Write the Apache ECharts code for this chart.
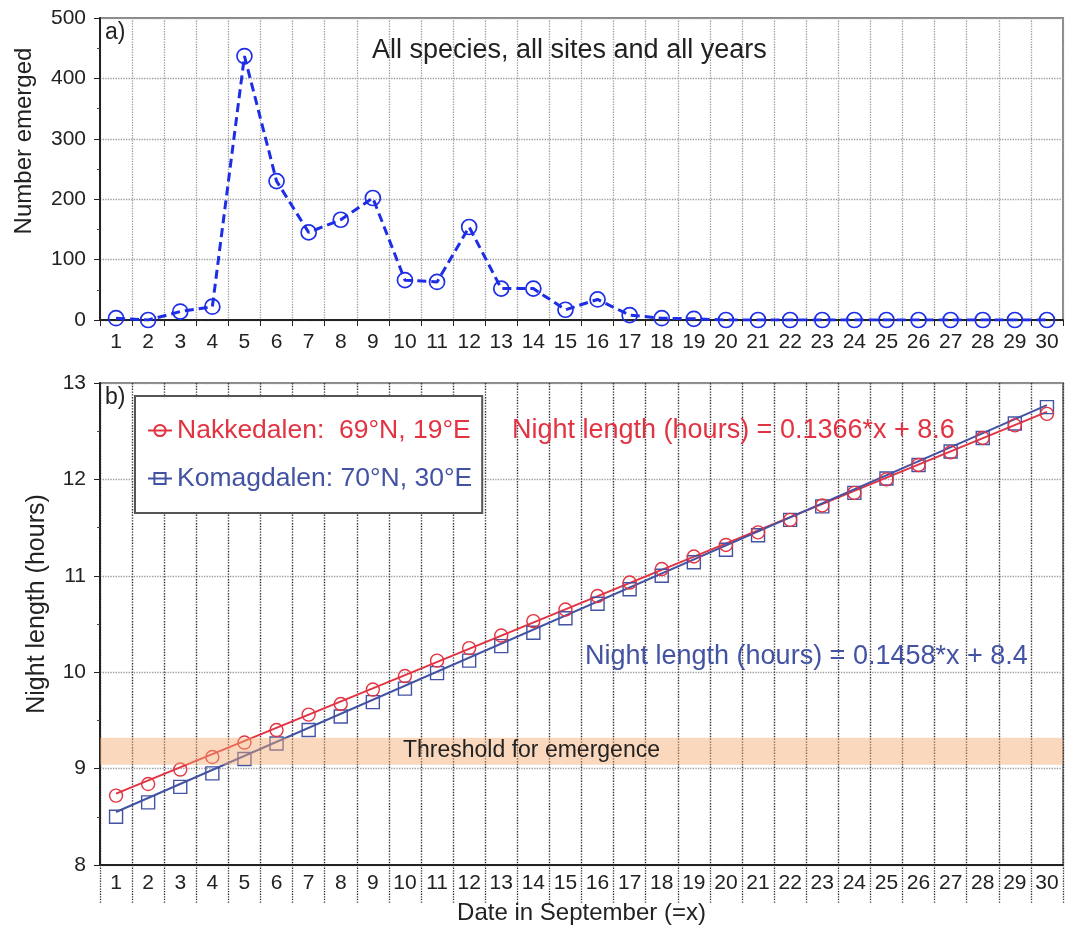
<!DOCTYPE html>
<html><head><meta charset="utf-8">
<script src="https://cdn.jsdelivr.net/npm/echarts@6/dist/echarts.min.js"></script>
<style>html,body{margin:0;padding:0;background:#fff}#c{width:1065px;height:937px}</style>
</head><body><div id="c"></div>
<script>
const days = Array.from({length:30},(_,i)=>String(i+1));
const emerged = [3,0,14,22,437,230,145,166,202,66,63,154,52,52,17,34,8,3,2,0,0,0,0,0,0,0,0,0,0,0];
const nakkedalen = [8.72,8.84,8.99,9.12,9.27,9.40,9.56,9.67,9.82,9.96,10.12,10.25,10.38,10.53,10.65,10.79,10.93,11.07,11.20,11.32,11.45,11.58,11.73,11.86,12.00,12.15,12.28,12.43,12.56,12.68];
const komagdalen = [8.50,8.65,8.81,8.95,9.10,9.26,9.40,9.54,9.69,9.83,9.99,10.12,10.27,10.41,10.56,10.71,10.86,11.00,11.14,11.27,11.42,11.58,11.72,11.86,12.01,12.15,12.29,12.43,12.58,12.75];
const nakkFitEnds = [['1',8.74],['30',12.70]];
const komaFitEnds = [['1',8.55],['30',12.77]];
const thresholdBand = [9.04, 9.32];
const topTicks = [0,100,200,300,400,500];
const bottomTicks = [8,9,10,11,12,13];

const FONT = 'Liberation Sans, Arial, Helvetica, sans-serif';
const RED = '#e23342', BLUE = '#4353a3', TOPBLUE = '#1d2ee6';
const TRANSP = 'rgba(0,0,0,0)';
const chart = echarts.init(document.getElementById('c'), null, {renderer:'canvas'});
const nameN = 'Nakkedalen:  69°N, 19°E', nameK = 'Komagdalen: 70°N, 30°E';

const xCommon = {type:'category', data:days, boundaryGap:true,
  axisLine:{show:true, onZero:false, lineStyle:{color:'#222', width:2}},
  axisLabel:{interval:0, fontFamily:FONT, fontSize:21, color:'#222'},
};
chart.setOption({
  animation:false,
  textStyle:{fontFamily:FONT},
  grid:[
    {left:100, right:2, top:18, height:302, show:true, borderColor:'#888', borderWidth:2},
    {left:100, right:2, top:383, height:482, show:true, borderColor:'#888', borderWidth:2}
  ],
  xAxis:[
    Object.assign({}, xCommon, {gridIndex:0,
      axisTick:{show:true, interval:0, length:6, lineStyle:{color:'#222'}},
      axisLabel:Object.assign({}, xCommon.axisLabel, {margin:12}),
      splitLine:{show:true, interval:0, lineStyle:{type:'dotted', color:'#9a9a9a', width:1.3}}}),
    Object.assign({}, xCommon, {gridIndex:1,
      axisTick:{show:true, interval:0, length:38, lineStyle:{type:'dotted', color:'#333', width:1.3}},
      axisLabel:Object.assign({}, xCommon.axisLabel, {margin:8}),
      splitLine:{show:true, interval:0, lineStyle:{type:'dotted', color:'#333', width:1.4}},
      name:'Date in September (=x)', nameLocation:'middle', nameGap:36,
      nameTextStyle:{fontFamily:FONT, fontSize:24, color:'#222'}})
  ],
  yAxis:[
    {type:'value', gridIndex:0, min:topTicks[0], max:topTicks[topTicks.length-1], interval:100,
      axisLine:{show:true, lineStyle:{color:'#222', width:2}},
      axisTick:{show:true, length:6, lineStyle:{color:'#222'}},
      minorTick:{show:true, splitNumber:2, length:3, lineStyle:{color:'#444'}},
      axisLabel:{fontFamily:FONT, fontSize:21, color:'#222', margin:14},
      splitLine:{show:true, lineStyle:{type:'dotted', color:'#9a9a9a', width:1.3}},
      name:'Number emerged', nameLocation:'middle', nameGap:64,
      nameTextStyle:{fontFamily:FONT, fontSize:24, color:'#222', padding:[0,0,0,56]}},
    {type:'value', gridIndex:1, min:bottomTicks[0], max:bottomTicks[bottomTicks.length-1], interval:1,
      axisLine:{show:true, lineStyle:{color:'#222', width:2}},
      axisTick:{show:true, length:6, lineStyle:{color:'#222'}},
      minorTick:{show:true, splitNumber:2, length:3, lineStyle:{color:'#444'}},
      axisLabel:{fontFamily:FONT, fontSize:21, color:'#222', margin:14},
      splitLine:{show:true, lineStyle:{type:'dotted', color:'#9a9a9a', width:1.3}},
      name:'Night length (hours)', nameLocation:'middle', nameGap:50,
      nameTextStyle:{fontFamily:FONT, fontSize:25, color:'#222', padding:[0,0,0,40]}}
  ],
  legend:{
    orient:'vertical', left:135, top:396,
    padding:[21,10,21,12],
    backgroundColor:'#fff', borderColor:'#555', borderWidth:2,
    itemWidth:24, itemHeight:14, itemGap:21, selectedMode:false,
    data:[
      {name:nameN, textStyle:{color:RED, fontSize:26.5, fontFamily:FONT}, lineStyle:{width:2, color:RED, opacity:1}},
      {name:nameK, textStyle:{color:BLUE, fontSize:26.5, fontFamily:FONT}, lineStyle:{width:2, color:BLUE, opacity:1}}
    ]
  },
  series:[
    {type:'line', xAxisIndex:0, yAxisIndex:0, data:emerged, symbol:'circle', symbolSize:15,
      itemStyle:{color:TRANSP, borderColor:TOPBLUE, borderWidth:1.7}, lineStyle:{color:TOPBLUE, width:3, type:[9,5]}, z:3},
    {type:'line', name:'fitN', xAxisIndex:1, yAxisIndex:1, data:nakkFitEnds, symbol:'none',
      lineStyle:{color:RED, width:2}, z:2},
    {type:'line', name:'fitK', xAxisIndex:1, yAxisIndex:1, data:komaFitEnds, symbol:'none',
      lineStyle:{color:BLUE, width:2}, z:2},
    {type:'line', name:nameK, xAxisIndex:1, yAxisIndex:1, data:komagdalen, symbol:'rect', symbolSize:13,
      itemStyle:{color:TRANSP, borderColor:BLUE, borderWidth:1.4},
      lineStyle:{width:0, opacity:0, color:BLUE}, z:3},
    {type:'line', name:nameN, xAxisIndex:1, yAxisIndex:1, data:nakkedalen, symbol:'circle', symbolSize:13,
      itemStyle:{color:TRANSP, borderColor:RED, borderWidth:1.4},
      lineStyle:{width:0, opacity:0, color:RED}, z:3},
    {type:'line', name:'band', xAxisIndex:1, yAxisIndex:1, data:[], z:6,
      markArea:{silent:true, z:10, itemStyle:{color:'rgba(245,168,110,0.45)'},
        data:[[{yAxis:thresholdBand[0]},{yAxis:thresholdBand[1]}]]}}
  ],
  graphic:[
    {type:'text', left:105, top:21, z:100, style:{text:'a)', font:'23px '+FONT, fill:'#222'}},
    {type:'text', left:105, top:386, z:100, style:{text:'b)', font:'23px '+FONT, fill:'#222'}},
    {type:'text', left:372, top:37, z:100, style:{text:'All species, all sites and all years', font:'27px '+FONT, fill:'#222'}},
    {type:'text', left:512, top:417, z:100, style:{text:'Night length (hours) = 0.1366*x + 8.6', font:'27px '+FONT, fill:RED}},
    {type:'text', left:585, top:643, z:100, style:{text:'Night length (hours) = 0.1458*x + 8.4', font:'27px '+FONT, fill:BLUE}},
    {type:'text', left:403, top:739, z:100, style:{text:'Threshold for emergence', font:'23px '+FONT, fill:'#222'}}
  ]
});
</script></body></html>
